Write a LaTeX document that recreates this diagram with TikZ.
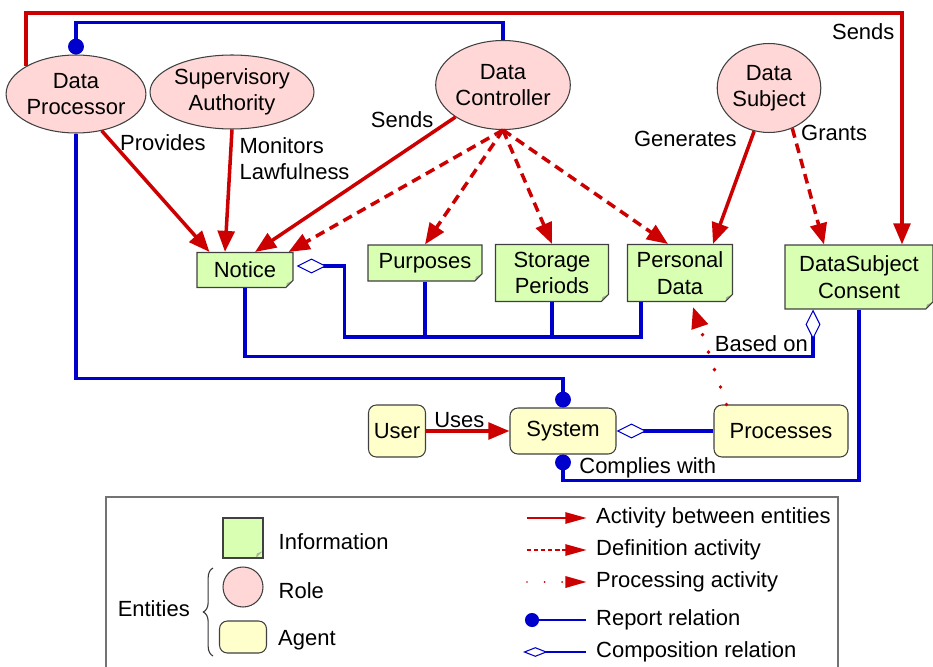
\documentclass[tikz,border=0pt]{standalone}
\usepackage{fontspec}
\setmainfont{Liberation Sans}
\usetikzlibrary{arrows.meta,shapes.geometric,shapes.misc,decorations.pathreplacing,positioning}
\definecolor{actred}{HTML}{CC0000}
\definecolor{relblue}{HTML}{0000CC}
\definecolor{rolefill}{HTML}{FFD7D7}
\definecolor{infofill}{HTML}{D9FFB3}
\definecolor{agentfill}{HTML}{FFFFCC}
\definecolor{foldfill}{HTML}{A3B596}
\tikzset{
	role/.style={ellipse, draw=black!75, line width=0.6pt, fill=rolefill, inner sep=0pt, align=center},
	info/.style={chamfered rectangle, chamfered rectangle corners=south east, chamfered rectangle xsep=2pt, chamfered rectangle ysep=2pt, draw=black!75, line width=0.6pt, fill=infofill, inner sep=0pt, align=center,
		path picture={\fill[foldfill] ([xshift=-4pt]path picture bounding box.south east) -- ([yshift=4pt]path picture bounding box.south east) -- ([xshift=-3.5pt,yshift=2.5pt]path picture bounding box.south east) -- cycle;}},
	agent/.style={rectangle, rounded corners=4.5pt, draw=black!75, line width=0.6pt, fill=agentfill, inner sep=0pt, align=center},
	act/.style={actred, text=black, line width=2pt, -{Triangle[length=12pt,width=9.5pt]}},
	defn/.style={act, dash pattern=on 5.5pt off 3.5pt},
	procline/.style={act, line width=2.2pt, line cap=round, dash pattern=on 0pt off 10.5pt},
	rel/.style={relblue, text=black, line width=2pt},
	rep/.style={rel, {Circle[length=9pt]}-},
	comp/.style={rel, {Diamond[length=17pt,width=8.5pt,fill=white,line width=0.6pt]}-},
	lgactline/.style={actred, line width=0.7pt, -{Triangle[length=12pt,width=6.5pt]}},
	lgdefline/.style={lgactline, dash pattern=on 2.5pt off 1.5pt},
	lgprocline/.style={lgactline, line width=1.1pt, line cap=round, dash pattern=on 0pt off 10pt},
	lgrepline/.style={relblue, line width=1pt, {Circle[length=8pt]}-},
	lgcompline/.style={relblue, line width=1pt, {Diamond[length=14pt,width=5.5pt,fill=white,line width=0.6pt]}-}
}
\begin{document}
\begin{tikzpicture}[x=0.02cm, y=-0.02cm]
	\tikzstyle{every node}+=[font=\fontsize{12.5}{15}\selectfont]
	\useasboundingbox (0,0) rectangle (933,666);
	\node[role, minimum width=2.68cm, minimum height=1.56cm] (dp) at (76,94) {Data\\Processor};
	\node[role, minimum width=3.24cm, minimum height=1.48cm] (sa) at (232,92) {Supervisory\\Authority};
	\node[role, minimum width=2.68cm, minimum height=1.78cm] (dc) at (503,85) {Data\\Controller};
	\node[role, minimum width=1.94cm, minimum height=1.78cm] (ds) at (769,88) {Data\\Subject};
	\node[info, minimum width=1.92cm, minimum height=0.7cm] (notice) at (245,270) {Notice};
	\node[info, minimum width=2.28cm, minimum height=0.72cm] (purp) at (425,263) {Purposes};
	\node[info, minimum width=2.26cm, minimum height=1.14cm] (stor) at (552,273) {Storage\\Periods};
	\node[info, minimum width=2.1cm, minimum height=1.14cm] (pers) at (680,273) {Personal\\Data};
	\node[info, minimum width=2.96cm, minimum height=1.28cm] (cons) at (859,277) {DataSubject\\Consent};
	\node[agent, minimum width=1.14cm, minimum height=1.04cm] (user) at (397,431) {User};
	\node[agent, minimum width=2.12cm, minimum height=0.92cm] (sys) at (563,431) {System};
	\node[agent, minimum width=2.68cm, minimum height=1.04cm] (proc) at (781,431) {Processes};
	\draw[act] (dp.north west) -- ++(0,-53) -| ([xshift=0.86cm]cons.north) node[pos=0.54, left] {Sends};
	\draw[rep] (dp.north) -- ++(0,-32) -| (dc.north);
	\draw[act] (dp.-55) -- ([xshift=0.26cm]notice.north west) node[pos=0.1, right] {Provides};
	\draw[act] (sa.south) -- ([xshift=-0.4cm]notice.north) node[pos=0, anchor=north west, align=left] {Monitors\\Lawfulness};
	\draw[act] (dc.-146) -- ([xshift=0.2cm]notice.north) node[pos=0.02, left=6pt] {Sends};
	\draw[defn] (dc.south) -- ([xshift=-0.1cm]notice.north east);
	\draw[defn] (dc.south) -- (purp.north);
	\draw[defn] (dc.south) -- (stor.north);
	\draw[defn] (dc.south) -- ([xshift=-0.24cm]pers.north);
	\draw[act] (ds.-109) -- ([xshift=0.66cm]pers.north) node[pos=0.07, left=4pt] {Generates};
	\draw[defn] (ds.-60) -- ([xshift=-0.7cm]cons.north) node[pos=0.04, right] {Grants};
	\draw[procline] ([xshift=0.26cm]proc.north west) -- ([xshift=0.26cm,yshift=-0.1cm]pers.south);
	\draw[act] (user) -- (sys) node[pos=0.4, above, inner sep=1pt] {Uses};
	\draw[comp] ([xshift=0.06cm,yshift=0.08cm]notice.east) -- ++(48,0) -- ++(0,71) coordinate (nbus) -| ([xshift=0.28cm]pers.south west);
	\draw[rel] (purp.south) -- (purp.south |- nbus);
	\draw[rel] (stor.south) -- (stor.south |- nbus);
	\draw[comp] ([xshift=-0.92cm]cons.south) -- ++(0,47) node[pos=1, above left, inner sep=2pt] {Based on} -| (notice.south);
	\draw[rep] (sys.north) -- ++(0,-29) -| (dp.south);
	\draw[rep] (sys.south) -- ++(0,26) node[midway, right=5pt] {Complies with} -| (cons.south);
	\draw[comp] (sys.east) -- (proc.west);
	\draw[black!55, line width=0.8pt] (106,497) rectangle (838,700);
	\node[info, minimum width=0.8cm, minimum height=0.8cm] (lginfo) at (243,538) {};
	\node[role, minimum width=0.8cm, minimum height=0.8cm] (lgrole) at (243,587) {};
	\node[agent, minimum width=0.94cm, minimum height=0.64cm] (lgagent) at (243,637) {};
	\node[right=0.18cm of lginfo, yshift=-0.07cm] (lginfotxt) {Information};
	\node[right=0.18cm of lgrole, yshift=-0.07cm] (lgroletxt) {Role};
	\node[right=0.1cm of lgagent, yshift=-0.07cm] (lgagenttxt) {Agent};
	\draw[black!80, line width=0.6pt, decorate, decoration={brace, amplitude=5.5pt}] (213,656) -- (213,568);
	\node[anchor=east] (lgent) at (196,609) {Entities};
	\node[anchor=west] (lgact) at (590,518) {Activity between entities};
	\node[anchor=west] (lgdef) at (590,550) {Definition activity};
	\node[anchor=west] (lgproc) at (590,582) {Processing activity};
	\node[anchor=west] (lgrep) at (590,620) {Report relation};
	\node[anchor=west] (lgcomp) at (590,652) {Composition relation};
	\coordinate (lga) at (527,518);
	\coordinate (lgd) at (527,550);
	\coordinate (lgp) at (527,582);
	\coordinate (lgr) at (525,620);
	\coordinate (lgc) at (523,652);
	\draw[lgactline] (lga) -- ([xshift=-2pt]lgact.west);
	\draw[lgdefline] (lgd) -- ([xshift=-2pt]lgdef.west);
	\draw[lgprocline] (lgp) -- ([xshift=-2pt]lgproc.west);
	\draw[lgrepline] (lgr) -- ([xshift=-2pt]lgrep.west);
	\draw[lgcompline] (lgc) -- ([xshift=-2pt]lgcomp.west);
\end{tikzpicture}
\end{document}
